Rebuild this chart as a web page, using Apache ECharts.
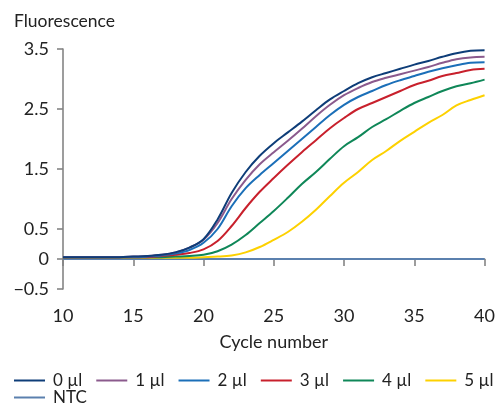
<!DOCTYPE html>
<html>
<head>
<meta charset="utf-8">
<script src="https://cdn.jsdelivr.net/npm/echarts@6/dist/echarts.min.js"></script>
<style>
html,body{margin:0;padding:0;background:#fff;}
#c{width:498px;height:412px;}
</style>
</head>
<body>
<div id="c"></div>
<script>
const cycles = [10,11,12,13,14,15,16,17,18,19,20,21,22,23,24,25,26,27,28,29,30,31,32,33,34,35,36,37,38,39,40];
const yTicks = [-0.5, 0, 0.5, 1.5, 2.5, 3.5];
const xTicks = [10, 15, 20, 25, 30, 35, 40];
const names = ['0 µl','1 µl','2 µl','3 µl','4 µl','5 µl','NTC'];
const s0 = [0.03,0.03,0.03,0.03,0.03,0.04,0.05,0.07,0.11,0.19,0.33,0.66,1.1,1.45,1.72,1.93,2.11,2.29,2.48,2.66,2.8,2.93,3.03,3.1,3.17,3.24,3.3,3.37,3.43,3.47,3.48];
const s1 = [0.03,0.03,0.03,0.03,0.03,0.04,0.05,0.07,0.11,0.19,0.32,0.6,1.0,1.32,1.58,1.78,1.97,2.17,2.38,2.57,2.73,2.85,2.95,3.02,3.08,3.14,3.2,3.27,3.33,3.36,3.37];
const s2 = [0.03,0.03,0.03,0.03,0.03,0.03,0.04,0.06,0.09,0.15,0.27,0.5,0.88,1.18,1.4,1.6,1.8,2.0,2.2,2.4,2.57,2.7,2.8,2.9,2.98,3.05,3.12,3.18,3.23,3.27,3.28];
const s3 = [0.03,0.03,0.03,0.03,0.03,0.03,0.03,0.05,0.07,0.1,0.16,0.3,0.55,0.85,1.12,1.35,1.57,1.78,1.98,2.18,2.35,2.5,2.6,2.7,2.8,2.9,2.97,3.05,3.1,3.15,3.17];
const s4 = [0.03,0.03,0.03,0.03,0.03,0.03,0.03,0.03,0.04,0.05,0.07,0.13,0.24,0.4,0.6,0.8,1.02,1.25,1.45,1.67,1.88,2.03,2.2,2.33,2.47,2.6,2.7,2.8,2.88,2.93,2.99];
const s5 = [0.02,0.02,0.02,0.02,0.02,0.02,0.02,0.02,0.02,0.02,0.03,0.04,0.06,0.11,0.2,0.32,0.45,0.62,0.82,1.05,1.27,1.45,1.65,1.8,1.97,2.12,2.27,2.4,2.56,2.65,2.73];
const ntc = [0,0,0,0,0,0,0,0,0,0,0,0,0,0,0,0,0,0,0,0,0,0,0,0,0,0,0,0,0,0,0];
const colors = ['#0e3d78','#8b5a8d','#1b6fb8','#c8202c','#0f8758','#fdd100','#5b80ae'];
const allSeries = [s0,s1,s2,s3,s4,s5,ntc];

const FONT = 'Lato';
const chart = echarts.init(document.getElementById('c'), null, {renderer:'canvas'});
const series = allSeries.map((d,i)=>({
  name: names[i],
  type: 'line',
  data: cycles.map((c,j)=>[c,d[j]]),
  showSymbol: false,
  symbol: 'none',
  smooth: 0.35,
  lineStyle: {width: 2, color: colors[i]},
  itemStyle: {color: colors[i]},
  z: i === 6 ? 1 : 2 + (6 - i),
  animation: false
}));
const legendText = {fontFamily: FONT, fontSize: 17, color: '#222', padding: [0,0,0,3]};
chart.setOption({
  animation: false,
  title: {text: 'Fluorescence', left: 9, top: 7, textStyle: {fontFamily: FONT, fontSize: 17.5, fontWeight: 'normal', color: '#222'}},
  grid: {left: 63, right: 13, top: 49, bottom: 123},
  legend: [
    {data: names.slice(0,6), left: 14, top: 372, width: 484, itemWidth: 31, itemHeight: 2, itemGap: 14, icon: 'rect', textStyle: legendText, padding: 0},
    {data: ['NTC'], left: 14, top: 389, itemWidth: 31, itemHeight: 2, icon: 'rect', textStyle: legendText, padding: 0}
  ],
  xAxis: {
    type: 'value', min: 10, max: 40, interval: 5,
    name: 'Cycle number', nameLocation: 'middle', nameGap: 44,
    nameTextStyle: {fontFamily: FONT, fontSize: 18, color: '#222'},
    axisLine: {lineStyle: {color: '#858585', width: 1.6}},
    axisTick: {show: true, length: 7, lineStyle: {color: '#858585', width: 1.6}, customValues: xTicks},
    axisLabel: {fontFamily: FONT, fontSize: 18, color: '#222', margin: 18, customValues: xTicks},
    splitLine: {show: false}
  },
  yAxis: {
    type: 'value', min: -0.5, max: 3.5, interval: 0.5,
    axisLine: {show: true, lineStyle: {color: '#858585', width: 1.6}},
    axisTick: {show: true, length: 6, lineStyle: {color: '#858585', width: 1.6}, customValues: yTicks},
    axisLabel: {fontFamily: FONT, fontSize: 18, color: '#222', margin: 14, customValues: yTicks,
      formatter: v => (v < 0 ? '\u2212' + String(Math.abs(v)) : String(v))},
    splitLine: {show: false}
  },
  series: series
});
</script>
</body>
</html>
